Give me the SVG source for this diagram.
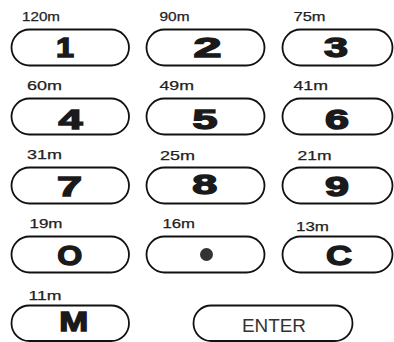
<svg xmlns="http://www.w3.org/2000/svg" width="394" height="342" viewBox="0 0 394 342">
<style>
.btn{fill:#fff;stroke:#111;stroke-width:1.8}
.lbl{font-family:"Liberation Sans",Arial,sans-serif;font-size:13px;fill:#222;stroke:#222;stroke-width:0.25}
.key{font-family:"Liberation Sans",Arial,sans-serif;font-weight:bold;font-size:28px;fill:#1a1a1a;stroke:#1a1a1a;stroke-width:1.4;text-anchor:middle}
.ent{font-family:"Liberation Sans",Arial,sans-serif;font-size:17.5px;fill:#333;text-anchor:middle}
</style>
<rect width="394" height="342" fill="#fff"/>
<g id="key1"><text class="lbl" x="22" y="21" textLength="38" lengthAdjust="spacingAndGlyphs">120m</text><rect class="btn" x="11.5" y="29.5" width="117.5" height="36" rx="18"/><text class="key" x="65" y="57" textLength="18" lengthAdjust="spacingAndGlyphs">1</text></g>
<g id="key2"><text class="lbl" x="159.5" y="20.5" textLength="30" lengthAdjust="spacingAndGlyphs">90m</text><rect class="btn" x="146.5" y="29.5" width="118" height="36" rx="18"/><text class="key" x="207.5" y="57" textLength="28" lengthAdjust="spacingAndGlyphs">2</text></g>
<g id="key3"><text class="lbl" x="293.5" y="20.5" textLength="32" lengthAdjust="spacingAndGlyphs">75m</text><rect class="btn" x="282.5" y="29.5" width="110" height="36" rx="18"/><text class="key" x="336" y="57" textLength="24" lengthAdjust="spacingAndGlyphs">3</text></g>
<g id="key4"><text class="lbl" x="27" y="90" textLength="35" lengthAdjust="spacingAndGlyphs">60m</text><rect class="btn" x="11.5" y="98.5" width="117.5" height="36" rx="18"/><text class="key" x="70.5" y="129" textLength="24" lengthAdjust="spacingAndGlyphs">4</text></g>
<g id="key5"><text class="lbl" x="159.5" y="90" textLength="34.5" lengthAdjust="spacingAndGlyphs">49m</text><rect class="btn" x="146.5" y="98.5" width="118" height="36" rx="18"/><text class="key" x="205" y="129" textLength="25" lengthAdjust="spacingAndGlyphs">5</text></g>
<g id="key6"><text class="lbl" x="293.5" y="89.5" textLength="34.5" lengthAdjust="spacingAndGlyphs">41m</text><rect class="btn" x="282.5" y="98.5" width="110" height="36" rx="18"/><text class="key" x="337" y="129" textLength="24" lengthAdjust="spacingAndGlyphs">6</text></g>
<g id="key7"><text class="lbl" x="27" y="159" textLength="35" lengthAdjust="spacingAndGlyphs">31m</text><rect class="btn" x="11.5" y="167.5" width="117.5" height="36" rx="18"/><text class="key" x="69.5" y="196" textLength="25" lengthAdjust="spacingAndGlyphs">7</text></g>
<g id="key8"><text class="lbl" x="160" y="160" textLength="35" lengthAdjust="spacingAndGlyphs">25m</text><rect class="btn" x="146.5" y="167.5" width="118" height="36" rx="18"/><text class="key" x="204.7" y="194" textLength="25" lengthAdjust="spacingAndGlyphs">8</text></g>
<g id="key9"><text class="lbl" x="297.5" y="160" textLength="34" lengthAdjust="spacingAndGlyphs">21m</text><rect class="btn" x="282.5" y="167.5" width="110" height="36" rx="18"/><text class="key" x="337" y="196" textLength="24" lengthAdjust="spacingAndGlyphs">9</text></g>
<g id="key0"><text class="lbl" x="29.5" y="228" textLength="33" lengthAdjust="spacingAndGlyphs">19m</text><rect class="btn" x="11.5" y="236.5" width="117.5" height="36" rx="18"/><text class="key" x="69.7" y="265" textLength="25" lengthAdjust="spacingAndGlyphs">O</text></g>
<g id="keydot"><text class="lbl" x="162.5" y="228" textLength="32.5" lengthAdjust="spacingAndGlyphs">16m</text><rect class="btn" x="146.5" y="236.5" width="118" height="36" rx="18"/><circle cx="206.5" cy="254.5" r="6.5" fill="#333"/></g>
<g id="keyC"><text class="lbl" x="296" y="231" textLength="33" lengthAdjust="spacingAndGlyphs">13m</text><rect class="btn" x="282.5" y="236.5" width="110" height="36" rx="18"/><text class="key" x="339" y="265" textLength="26" lengthAdjust="spacingAndGlyphs">C</text></g>
<g id="keyM"><text class="lbl" x="28.5" y="300" textLength="33" lengthAdjust="spacingAndGlyphs">11m</text><rect class="btn" x="11.5" y="305.5" width="117.5" height="35.5" rx="17.75"/><text class="key" x="73.7" y="331" textLength="29" lengthAdjust="spacingAndGlyphs">M</text></g>
<g id="keyEnter"><rect class="btn" x="193.5" y="305.5" width="159" height="35.5" rx="17.75"/><text class="ent" x="274" y="331.5" textLength="64" lengthAdjust="spacingAndGlyphs">ENTER</text></g>
<g id="connectors"/>
</svg>
